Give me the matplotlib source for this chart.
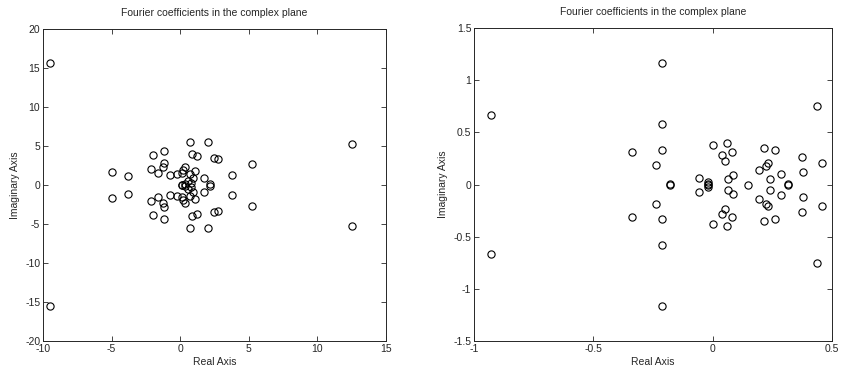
import matplotlib
matplotlib.use("Agg")
import matplotlib.pyplot as plt
from matplotlib.ticker import FixedLocator, FuncFormatter

plt.rcParams['font.family'] = ['Liberation Sans', 'DejaVu Sans']
plt.rcParams['axes.unicode_minus'] = False

# Left panel: Fourier coefficients (real, imaginary)
left_re = [-9.5, -9.5, 12.5, 12.5, 5.2, 5.2, -5.0, -5.0, -3.8, -3.8,
           0.7, 0.7, 2.0, 2.0, -2.0, -2.0, -1.2, -1.2, 0.85, 0.85,
           1.25, 1.25, 2.45, 2.45, 2.75, 2.75, -1.15, -1.15, -1.25, -1.25,
           -2.15, -2.15, -1.65, -1.65, -0.75, -0.75, -0.2, -0.2, 0.35, 0.35,
           0.22, 0.22, 0.1, 0.1, 0.7, 0.7, 1.1, 1.1, 1.75, 1.75,
           2.2, 2.2, 3.8, 3.8, 0.15, 0.15, 0.35, 0.35, 0.55, 0.55,
           0.8, 0.8, 0.95, 0.95]
left_im = [15.6, -15.5, 5.3, -5.3, 2.75, -2.75, 1.7, -1.7, 1.1, -1.1,
           5.5, -5.5, 5.5, -5.5, 3.8, -3.8, 4.4, -4.4, 4.0, -4.0,
           3.7, -3.7, 3.45, -3.45, 3.35, -3.35, 2.8, -2.8, 2.35, -2.35,
           2.05, -2.05, 1.6, -1.6, 1.3, -1.3, 1.4, -1.4, 2.3, -2.3,
           1.9, -1.9, 1.5, -1.5, 1.4, -1.4, 1.85, -1.85, 0.95, -0.95,
           0.15, -0.15, 1.25, -1.25, 0.05, -0.05, 0.15, -0.15, 0.55, -0.55,
           0.3, -0.3, 0.9, -0.9]

# Right panel
right_re = [-0.929, -0.929, -0.214, -0.214, -0.211, -0.211, -0.339, -0.339,
            -0.214, -0.214, -0.238, -0.238, -0.180, -0.180, -0.059, -0.059,
            -0.020, -0.020, -0.018, -0.018, 0.0, 0.0, 0.059, 0.059,
            0.038, 0.038, 0.080, 0.080, 0.052, 0.052, 0.086, 0.086,
            0.065, 0.065, 0.149, 0.216, 0.216, 0.261, 0.261, 0.230, 0.230,
            0.223, 0.223, 0.193, 0.193, 0.240, 0.240, 0.286, 0.286,
            0.317, 0.317, 0.375, 0.375, 0.380, 0.380, 0.457, 0.457,
            0.436, 0.436]
right_im = [0.662, -0.662, 1.16, -1.16, 0.582, -0.582, 0.31, -0.31,
            0.33, -0.33, 0.19, -0.19, 0.005, -0.005, 0.066, -0.066,
            0.005, -0.005, 0.025, -0.025, 0.375, -0.375, 0.394, -0.394,
            0.283, -0.283, 0.314, -0.314, 0.229, -0.229, 0.092, -0.092,
            0.05, -0.05, 0.0, 0.347, -0.347, 0.331, -0.331, 0.203, -0.203,
            0.181, -0.181, 0.139, -0.139, 0.05, -0.05, 0.101, -0.101,
            0.005, -0.005, 0.261, -0.261, 0.12, -0.12, 0.203, -0.203,
            0.751, -0.751]

left_xticks = [-10, -5, 0, 5, 10, 15]
left_yticks = [-20, -15, -10, -5, 0, 5, 10, 15, 20]
right_xticks = [-1, -0.5, 0, 0.5]
right_yticks = [-1.5, -1, -0.5, 0, 0.5, 1, 1.5]

title = "Fourier coefficients in the complex plane"

fig = plt.figure(figsize=(8.41, 3.76), dpi=100)
ax1 = fig.add_axes([0.0511, 0.093, 0.408, 0.830])
ax2 = fig.add_axes([0.5636, 0.092, 0.4257, 0.834])

fmt = FuncFormatter(lambda v, p: "%g" % v)
axc = '0.15'
for ax, xs, ys, xt, yt in [(ax1, left_re, left_im, left_xticks, left_yticks),
                           (ax2, right_re, right_im, right_xticks, right_yticks)]:
    ax.plot(xs, ys, 'o', mfc='none', mec='black', ms=5.2, mew=0.8, ls='none')
    ax.set_xlim(xt[0], xt[-1])
    ax.set_ylim(yt[0], yt[-1])
    ax.xaxis.set_major_locator(FixedLocator(xt))
    ax.yaxis.set_major_locator(FixedLocator(yt))
    ax.xaxis.set_major_formatter(fmt)
    ax.yaxis.set_major_formatter(fmt)
    ax.tick_params(direction='in', length=3.5, width=0.6, labelsize=7.5,
                   top=True, right=True, colors=axc, labelcolor='#262626', pad=2)
    for s in ax.spines.values():
        s.set_color(axc)
        s.set_linewidth(0.7)
    ax.set_title(title, fontsize=7.5, color='#262626', pad=9)
    ax.set_xlabel("Real Axis", fontsize=7.5, color='#262626', labelpad=2)
    ax.set_ylabel("Imaginary Axis", fontsize=7.5, color='#262626', labelpad=4)

fig.savefig("out.png", dpi=100)
